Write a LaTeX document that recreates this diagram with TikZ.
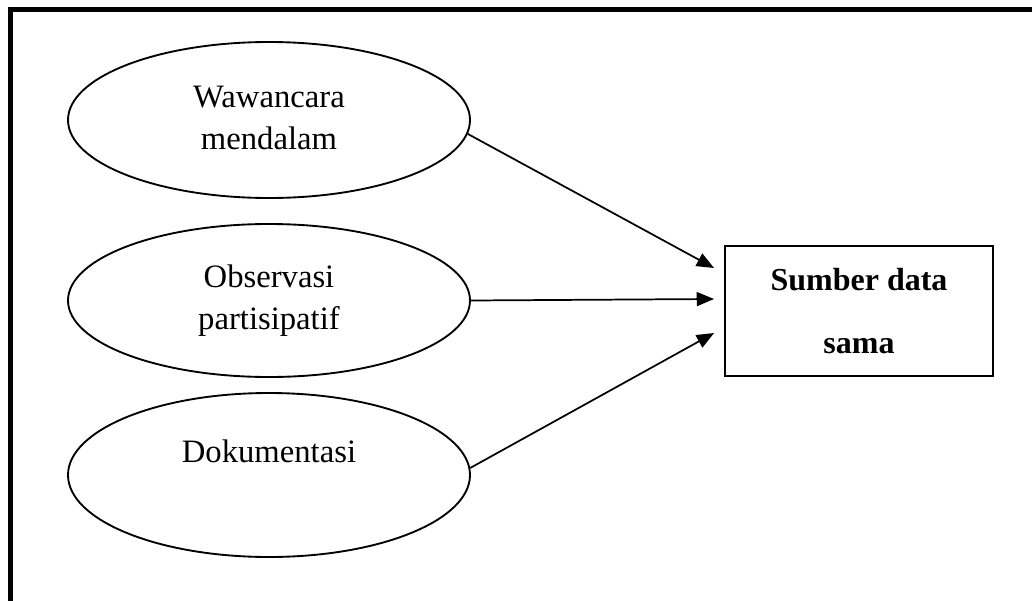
\documentclass[tikz,border=0pt]{standalone}
\usepackage{fontspec}
\setmainfont{Liberation Serif}
\usetikzlibrary{shapes.geometric,arrows.meta,calc}

\tikzset{
  method/.style={draw, ellipse, line width=1.4pt, minimum width=301.5pt,
    inner sep=0pt, align=center, font=\fontsize{24.5}{31.5}\selectfont},
  target/.style={draw, rectangle, line width=1.4pt, minimum width=201pt,
    minimum height=97.5pt, inner sep=0pt, align=center,
    font=\fontsize{24}{47}\selectfont\bfseries},
  feed/.style={line width=1.3pt, -{Triangle[length=13pt,width=10.5pt]}},
  frame/.style={line width=3.75pt, line join=miter}
}

\begin{document}
\begin{tikzpicture}[x=0.75pt, y=-0.75pt]
  \useasboundingbox (0,0) rectangle (1032,600);

  % page frame, open at the right and bottom
  \draw[frame] (10.5,620) -- (10.5,9.5) -- (1050,9.5);

  % data collection methods
  \node[method, minimum height=117pt] (w) at (269,120)
    {\raisebox{3pt}{Wawancara}\\\raisebox{3pt}{mendalam}};
  \node[method, minimum height=114.75pt] (o) at (269,300.5)
    {Observasi\\partisipatif};
  \node[method, minimum height=123pt] (d) at (269,475)
    {\raisebox{5pt}{Dokumentasi}\\~};

  % common data source
  \node[target] (s) at (859,311) {\raisebox{-5pt}{Sumber data}\\\raisebox{-5pt}{sama}};

  % arrow ends just left of the box
  \coordinate (in1) at ($(s.west)+(-10,-43)$);
  \coordinate (in2) at ($(s.west)+(-10,-12)$);
  \coordinate (in3) at ($(s.west)+(-10,22)$);

  \draw[feed] (w.-4) -- (in1);
  \draw[feed] (o.east) -- (in2);
  \draw[feed] (d.2) -- (in3);
\end{tikzpicture}
\end{document}
